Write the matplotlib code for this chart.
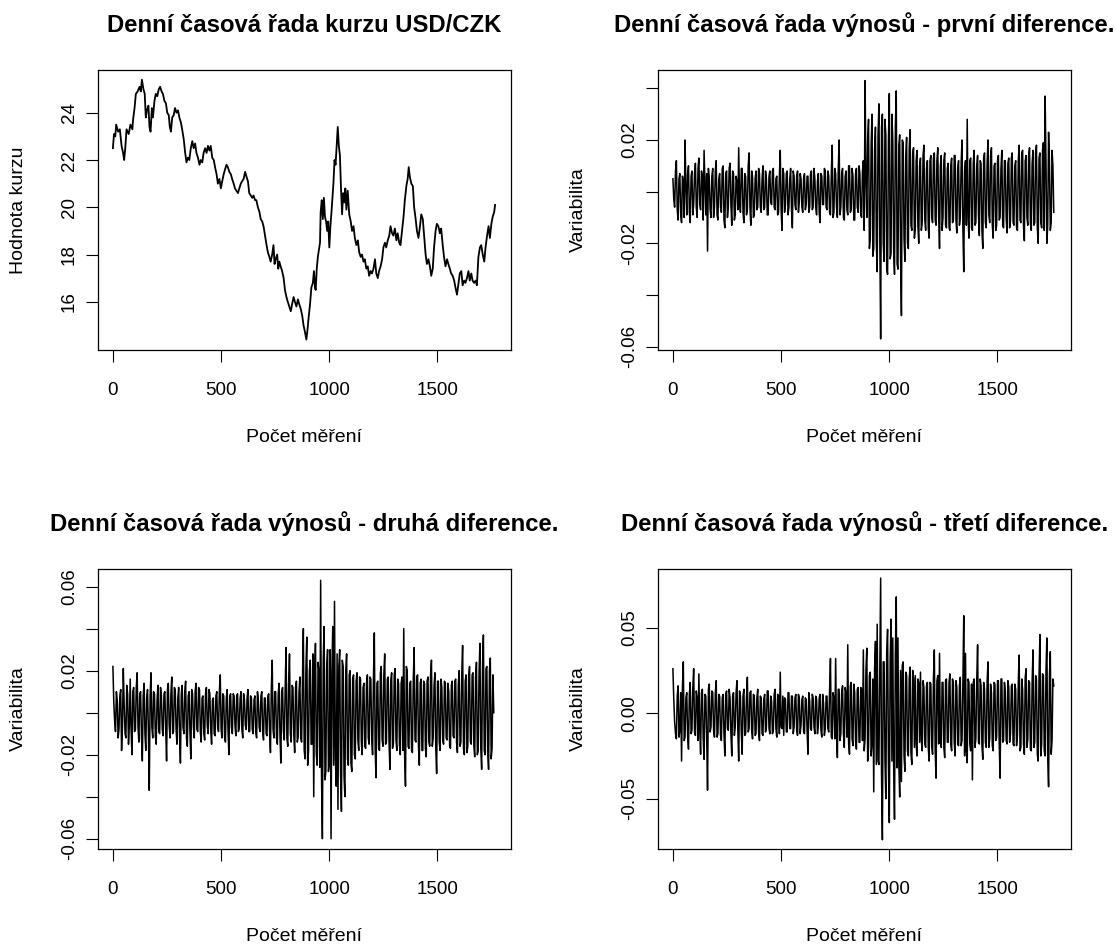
#!/usr/bin/env python3

import matplotlib
import numpy as np

matplotlib.use("Agg")
import matplotlib.pyplot as plt

########################################################################
# Data
########################################################################

# kurz USD/CZK: measurement index and value
PRICE_IDX = [
    1, 6, 12, 16, 25, 33, 41, 48, 53, 58, 64, 74, 82, 91, 94, 101, 107, 115,
    124, 130, 135, 142, 148, 153, 158, 165, 170, 175, 181, 186, 193, 199, 206,
    213, 219, 226, 232, 239, 246, 252, 259, 264, 269, 275, 282, 288, 295, 302,
    308, 315, 321, 328, 335, 341, 348, 354, 361, 368, 374, 381, 387, 394, 401,
    407, 414, 420, 427, 434, 440, 447, 453, 460, 467, 473, 480, 486, 493, 500,
    506, 513, 519, 526, 532, 539, 546, 552, 559, 565, 572, 579, 585, 592, 598,
    605, 612, 618, 625, 631, 638, 645, 651, 658, 664, 671, 678, 684, 691, 697,
    704, 711, 717, 724, 730, 737, 743, 748, 753, 760, 765, 770, 776, 783, 790,
    796, 803, 809, 816, 823, 829, 836, 842, 849, 856, 862, 869, 876, 882, 889,
    895, 900, 905, 912, 918, 925, 930, 935, 938, 943, 948, 953, 958, 961, 966,
    971, 976, 981, 986, 991, 996, 1001, 1006, 1011, 1016, 1020, 1025, 1030,
    1035, 1040, 1045, 1050, 1055, 1060, 1065, 1070, 1075, 1080, 1086, 1093,
    1100, 1106, 1113, 1119, 1126, 1133, 1139, 1146, 1152, 1159, 1165, 1172,
    1179, 1185, 1192, 1198, 1205, 1212, 1218, 1225, 1231, 1238, 1245, 1251,
    1258, 1264, 1271, 1278, 1284, 1291, 1297, 1304, 1311, 1317, 1324, 1330,
    1337, 1344, 1350, 1357, 1363, 1368, 1373, 1380, 1387, 1393, 1400, 1406,
    1413, 1420, 1426, 1433, 1439, 1446, 1452, 1459, 1466, 1472, 1479, 1485,
    1492, 1498, 1505, 1512, 1518, 1525, 1531, 1538, 1545, 1551, 1558, 1564,
    1571, 1578, 1584, 1591, 1597, 1604, 1611, 1617, 1624, 1630, 1637, 1644,
    1650, 1657, 1663, 1670, 1677, 1683, 1690, 1697, 1703, 1710, 1717, 1723,
    1730, 1737, 1743, 1750, 1756, 1763, 1767,
]
PRICE_VAL = [
    22.5, 23.1, 23.0, 23.5, 23.2, 23.3, 22.6, 22.3, 22.0, 22.5, 23.3, 23.1,
    23.5, 23.3, 23.7, 24.2, 24.8, 24.9, 25.1, 24.9, 25.4, 25.0, 24.8, 23.8,
    24.1, 24.3, 23.4, 23.2, 24.2, 23.8, 24.5, 24.8, 24.7, 25.0, 25.1, 24.9,
    24.8, 24.5, 24.4, 24.0, 23.9, 23.4, 23.2, 23.8, 23.9, 24.2, 24.0, 24.1,
    23.8, 23.6, 23.3, 22.9, 22.3, 21.9, 22.1, 22.0, 22.5, 22.8, 22.5, 22.7,
    22.3, 22.1, 21.8, 22.0, 21.9, 22.3, 22.5, 22.3, 22.6, 22.4, 22.6, 22.1,
    22.0, 21.7, 21.4, 21.0, 21.2, 20.8, 21.1, 21.4, 21.6, 21.8, 21.7, 21.5,
    21.4, 21.2, 21.0, 20.8, 20.7, 20.6, 20.8, 21.0, 21.1, 21.2, 21.5, 21.3,
    21.1, 20.6, 20.5, 20.4, 20.5, 20.3, 20.3, 20.0, 19.8, 19.5, 19.4, 19.2,
    18.8, 18.4, 18.1, 17.9, 17.7, 18.0, 18.4, 17.6, 17.8, 18.0, 17.4, 17.7,
    17.5, 17.3, 17.0, 16.5, 16.2, 16.0, 15.8, 15.6, 15.9, 16.2, 16.0, 15.8,
    16.1, 15.9, 15.7, 15.4, 15.0, 14.7, 14.4, 14.8, 15.3, 15.9, 16.6, 16.8,
    17.3, 16.6, 16.5, 17.4, 17.9, 18.2, 18.5, 19.8, 20.3, 19.5, 20.4, 19.6,
    19.4, 19.0, 19.4, 18.3, 19.2, 19.8, 20.5, 21.0, 22.0, 21.8, 22.6, 23.4,
    22.6, 22.2, 20.8, 19.7, 20.6, 20.2, 20.8, 19.9, 20.7, 19.7, 19.4, 19.0,
    19.2, 18.7, 18.4, 18.6, 18.1, 17.9, 18.0, 17.7, 17.8, 17.4, 17.5, 17.1,
    17.3, 17.2, 17.4, 17.8, 17.2, 17.0, 17.3, 17.5, 17.8, 18.3, 18.5, 18.3,
    18.6, 18.8, 19.2, 18.9, 18.8, 19.1, 18.6, 18.9, 18.5, 18.4, 19.0, 19.6,
    20.3, 20.9, 21.2, 21.7, 21.3, 21.0, 20.9, 20.0, 19.5, 19.0, 18.7, 19.2,
    19.7, 19.5, 18.8, 18.0, 17.6, 17.8, 17.5, 17.1, 17.4, 18.3, 19.0, 19.3,
    19.2, 18.9, 19.1, 18.4, 17.9, 17.5, 17.8, 17.6, 17.4, 17.2, 17.1, 16.9,
    16.6, 16.3, 16.7, 17.2, 17.3, 16.7, 16.9, 16.8, 17.0, 17.3, 16.9, 17.2,
    16.9, 16.8, 16.9, 16.7, 17.9, 18.3, 18.4, 18.0, 17.7, 18.3, 18.8, 19.2,
    18.7, 19.3, 19.6, 19.8, 20.1,
]

# returns in thousandths; *_MILLI at measurements 1, 9, 17, ...,
# *_MID at the measurements half way between them (5, 13, 21, ...)
DIFF1_MILLI = [
    5, -6, 12, -11, 7, -12, 4, 20, -9, 10,
    -12, 8, -5, 11, -10, 13, -7, 6, 16, -9,
    -23, 5, -10, 9, -6, 12, -11, 7, -8, 10,
    -14, 8, -6, 11, -13, 7, -9, 4, 17, -8,
    9, -12, 6, -7, 15, -13, 6, -9, 8, -6,
    7, -8, 10, -6, 5, -9, 8, -5, 9, -7,
    6, -8, 16, -15, 7, -5, 8, -6, 9, -14,
    6, -7, 8, -4, 5, -8, 7, -5, 6, -6,
    8, -6, 5, -9, 7, -12, 6, -5, 8, -7,
    6, -9, 18, -8, 7, -10, 20, -6, 9, -11,
    8, -9, 10, -7, 6, -11, 9, -8, 7, -10,
    12, 43, -10, 28, -18, 30, -22, 25, -31, 34,
    -57, 30, -27, 22, -32, 38, -24, 20, -32, 39,
    -30, 22, -48, 19, -27, 21, -22, 24, -15, 17,
    -14, 16, -20, 13, -12, 18, -15, 12, -18, 14,
    -12, 15, -13, 17, -22, 14, -10, 15, -14, 11,
    -15, 13, -11, 14, -16, 12, -10, 20, -31, 12,
    28, -18, 13, -15, 16, -12, 14, -17, 11, -22,
    15, -14, 20, -12, 17, -18, 11, -13, 14, -10,
    16, -14, 12, -16, 13, -11, 15, -13, 12, -15,
    18, -12, 16, -19, 14, -13, 17, -15, 16, -12,
    18, -20, 15, -14, 19, 37, -20, 23, -15, 16,
    -8,
]
DIFF1_MID = [
    -3, 8, -7, 5, -9, 6, -10, 2, 7, -8,
    6, -9, 7, -6, 9, -5, 8, -11, 4, 7,
    9, -7, 6, -10, 8, -9, 5, -6, 9, -11,
    7, -10, 9, -5, 8, -11, 6, -7, -3, 9,
    -8, 7, -9, 10, -6, 8, -10, 5, -7, 9,
    -6, 5, -7, 8, -9, 6, -4, 8, -6, 5,
    -9, 6, -7, 9, -8, 7, -9, 5, -7, 8,
    -5, 6, -8, 7, -6, 5, -7, 6, -8, 7,
    -7, 9, -6, 4, -8, 7, -5, 9, -6, 8,
    -8, 7, -10, 9, -6, 8, -9, 7, -10, 6,
    -7, 10, -8, 9, -11, 7, -6, 10, -9, 8,
    -15, 5, 20, -22, 18, -25, 16, -20, 22, -18,
    25, -20, 28, -30, 20, -26, 30, -22, 25, -28,
    18, -25, 20, -18, 14, -20, 17, -13, 15, -18,
    12, -13, 10, -15, 14, -11, 9, -14, 12, -10,
    13, -11, 12, -9, 10, -15, 12, -13, 9, -14,
    10, -12, 14, -11, 9, -13, 11, -14, 8, -13,
    -10, 12, -14, 11, -13, 10, -9, 12, -15, 13,
    -12, 11, -9, 14, -13, 10, -15, 12, -11, 9,
    -13, 12, -10, 11, -14, 13, -12, 10, -14, 12,
    -11, 15, -13, 12, -10, 14, -12, 11, -13, 15,
    -14, 13, -12, 16, -15, 12, -13, 11, -12, 10,
]
DIFF2_MILLI = [
    22, -4, 10, -12, 8, -18, 21, -10, 13, -15,
    16, -20, 12, -8, 19, -14, 10, -23, 14, -18,
    11, -37, 19, -12, 9, -15, 13, -10, 8, -11,
    10, -23, 14, -12, 17, -9, 11, -15, 12, -24,
    13, -10, 15, -16, 10, -22, 9, -12, 14, -9,
    11, -14, 8, -13, 12, -10, 9, -15, 7, -11,
    10, -9, 18, -12, 8, -14, 11, -20, 9, -10,
    8, -11, 9, -7, 10, -12, 6, -8, 11, -9,
    7, -10, 8, -12, 6, -9, 10, -13, 7, -11,
    9, -19, 25, -12, 10, -15, 14, -24, 12, -13,
    31, -16, 28, -14, 12, -19, 15, -12, 17, -14,
    40, -22, 36, -18, 25, -15, -40, 33, -25, 20,
    63, -60, 41, -28, 30, -24, -60, 41, 53, -35,
    -46, 30, -47, 22, -40, 28, -25, 20, -28, 18,
    -22, 19, -18, 16, -20, 14, -17, 18, -15, 16,
    -20, 38, -31, 15, -18, 22, -16, 28, -14, 17,
    -27, 19, -15, 21, -18, 14, -20, 17, 40, -35,
    20, -17, 15, -19, 31, -14, 18, -25, 16, -18,
    14, -21, 17, -16, 25, -12, 19, -29, 15, -18,
    12, -15, 14, -13, 10, -17, 15, -12, 16, -19,
    20, -14, 32, -20, 18, -16, 22, -15, 19, -21,
    24, -18, 33, -27, 37, -20, 22, -27, 26, -17,
    0,
]
DIFF2_MID = [
    5, -9, 6, -8, 11, -7, 4, -12, 9, -6,
    -8, 10, -9, 12, -7, 9, -11, 8, -10, 7,
    -9, 8, -7, 10, -11, 6, -9, 12, -8, 9,
    -8, 11, -6, 9, -10, 12, -8, 7, -11, 9,
    -7, 10, -12, 8, -9, 11, -7, 10, -8, 12,
    -9, 7, -10, 9, -6, 11, -8, 6, -10, 8,
    -7, 10, -8, 9, -11, 7, -9, 8, -7, 9,
    -6, 8, -9, 7, -8, 9, -6, 7, -9, 8,
    -8, 6, -9, 10, -7, 8, -9, 7, -10, 8,
    -9, 11, -8, 10, -12, 9, -11, 10, -9, 11,
    -12, 14, -10, 13, -11, 12, -14, 10, -12, 15,
    -18, 22, -25, 20, -15, 28, 18, -20, 24, -26,
    -30, 25, -32, 22, -28, 30, 20, -25, -22, 28,
    22, -28, 25, -30, 20, -22, 18, -24, 16, -20,
    15, -13, 17, -14, 12, -16, 14, -12, 17, -13,
    16, -18, 14, -17, 19, -13, 18, -15, 16, -14,
    15, -17, 18, -13, 16, -15, 14, -18, -20, 22,
    -16, 14, -18, 15, -13, 17, -16, 14, -18, 15,
    -17, 15, -14, 18, -16, 13, -17, 15, -14, 16,
    -13, 15, -12, 14, -16, 13, -11, 15, -14, 13,
    -16, 18, -17, 15, -19, 17, -14, 18, -16, 17,
    -20, 19, -17, 22, -18, 21, -19, 20, -22, 18,
]
DIFF3_MILLI = [
    26, -5, -15, 16, -10, -28, 30, -14, 12, -21,
    18, -10, 26, -13, 9, 23, -24, 14, -27, 10,
    -45, 17, -8, 12, -14, 19, -12, 10, -16, 11,
    -25, 13, -10, 9, -25, 12, -8, 19, -28, 10,
    -24, 14, -12, 21, -9, 13, -15, 10, -12, 14,
    -16, 9, -13, 11, -8, 13, -12, 7, -10, 14,
    -14, 10, 24, -9, -13, 8, -11, 12, -9, 10,
    -8, 11, -13, 9, -7, 10, -12, 8, -24, 7,
    -10, 9, -12, 8, -7, 11, -14, 6, -9, 10,
    -11, 32, -15, 9, 32, -26, 14, -12, 16, -20,
    12, 40, -24, 18, -19, 12, -21, 15, -17, 14,
    37, -15, 38, -20, 24, -18, -46, 42, 52, -30,
    79, -74, 30, -50, 49, -64, 55, 44, -62, 68,
    44, -49, -40, 30, -34, 22, -25, 27, -30, 20,
    22, -25, 18, 24, -22, 15, -20, 18, -28, 17,
    -24, 37, -38, 22, 35, -20, 18, -26, 20, -17,
    23, -22, 17, -25, 15, -19, 21, -16, 57, 35,
    -29, 18, -22, -39, 20, -15, 40, -18, 16, -27,
    14, -20, 30, -15, 12, -22, 17, -14, 19, -38,
    20, -16, 13, -18, 15, -12, 17, -19, 14, -13,
    34, -20, 14, -24, 26, -15, 18, -22, 37, -17,
    20, -28, 46, -18, 22, -25, 44, -43, 36, -16,
    16,
]
DIFF3_MID = [
    8, -12, 10, -14, 12, 15, -16, 9, -13, 11,
    -12, 15, -11, 13, -16, -10, 12, -15, 11, -13,
    14, -11, 13, -10, 12, -14, 11, -13, 9, -12,
    11, -9, 14, -12, 10, -13, 12, -10, 13, -11,
    10, -13, 9, -11, 12, -10, 11, -13, 9, -11,
    10, -12, 8, -11, 13, -9, 10, -12, 11, -9,
    11, -12, -8, 10, 9, -11, 12, -9, 10, -12,
    9, -10, 11, -12, 8, -11, 9, -10, 12, -9,
    11, -8, 10, -12, 9, -10, 11, -13, 10, -9,
    13, -14, 12, -15, -13, 14, -16, 13, -12, 15,
    -14, -18, 16, -15, 17, -16, 14, -17, 15, -16,
    -22, 25, -28, 22, -25, 20, 26, -30, -28, 25,
    -35, 30, -28, 35, -30, 32, -28, -30, 35, -32,
    -30, 25, 28, -25, 24, -22, 20, -23, 25, -20,
    -18, 20, -17, -16, 19, -18, 16, -20, 18, -19,
    20, -22, 19, -18, -17, 18, -20, 19, -17, 18,
    -18, 20, -17, 19, -18, 16, -19, 18, -25, -20,
    20, -18, 17, 18, -20, 19, -17, 20, -19, 18,
    -17, 18, -20, 17, -19, 18, -16, 19, -18, 20,
    -17, 18, -16, 19, -17, 16, -18, 17, -19, 18,
    -22, 20, -18, 21, -20, 19, -21, 18, -20, 22,
    -24, 22, -25, 23, -22, 24, -26, 22, -24, 20,
]
DIFF_STEP = 4

TITLES = [
    "Denní časová řada kurzu USD/CZK",
    "Denní časová řada výnosů - první diference.",
    "Denní časová řada výnosů - druhá diference.",
    "Denní časová řada výnosů - třetí diference.",
]
X_LABEL = "Počet měření"
Y_LABELS = ["Hodnota kurzu", "Variabilita", "Variabilita", "Variabilita"]

X_TICKS = [0, 500, 1000, 1500]
Y_TICKS = [
    [16, 18, 20, 22, 24],
    [-0.06, -0.04, -0.02, 0.00, 0.02, 0.04],
    [-0.06, -0.04, -0.02, 0.00, 0.02, 0.04, 0.06],
    [-0.05, 0.00, 0.05],
]
Y_TICK_LABELS = [
    ["16", "18", "20", "22", "24"],
    ["-0.06", "", "-0.02", "", "0.02", ""],
    ["-0.06", "", "-0.02", "", "0.02", "", "0.06"],
    ["-0.05", "0.00", "0.05"],
]
Y_LIMITS = [
    (13.96, 25.81),
    (-0.0613, 0.0471),
    (-0.0649, 0.0684),
    (-0.0794, 0.0843),
]
X_LIMITS = (-69.3, 1840.6)

########################################################################
# Layout (pixels of the 1116x946 picture)
########################################################################

FIG_W, FIG_H = 1116, 946
BOX_LEFT = [97.7, 657.7]
BOX_TOP = [70.0, 569.0]
BOX_W, BOX_H = 413.3, 280.0

plt.rcParams["font.family"] = ["Liberation Sans", "DejaVu Sans"]
plt.rcParams["axes.unicode_minus"] = False


def _series(main, mid) -> tuple[np.ndarray, np.ndarray]:
    # put the half-way readings between the main ones
    y = np.empty(len(main) + len(mid))
    y[0::2] = main
    y[1::2] = mid
    y = y / 1000.0
    x = 1 + DIFF_STEP * np.arange(len(y))
    return x, y


def _style(ax, k: int) -> None:
    ax.set_xlim(*X_LIMITS)
    ax.set_ylim(*Y_LIMITS[k])
    ax.set_xticks(X_TICKS, [str(t) for t in X_TICKS])
    ax.set_yticks(Y_TICKS[k], Y_TICK_LABELS[k])
    for side in ax.spines.values():
        side.set_linewidth(0.9)
        side.set_color("black")
    ax.tick_params(axis="both", direction="out", length=8.8, width=0.8,
                   labelsize=13.5, colors="black")
    ax.tick_params(axis="x", pad=14.5)
    ax.tick_params(axis="y", pad=5.5, labelrotation=90)
    for lab in ax.get_yticklabels():
        lab.set_verticalalignment("center")
        lab.set_horizontalalignment("right")
    ax.set_title(TITLES[k], fontsize=17.2, fontweight="bold",
                 y=1.0 + 45.0 / BOX_H, va="center", pad=0)
    ax.set_xlabel(X_LABEL, fontsize=14, va="center")
    ax.xaxis.set_label_coords(0.5, -87.0 / BOX_H)
    ax.set_ylabel(Y_LABELS[k], fontsize=14, va="center")
    ax.yaxis.set_label_coords(-79.0 / BOX_W, 0.5)


def main() -> int:
    fig = plt.figure(figsize=(FIG_W / 100, FIG_H / 100), dpi=100)
    axes = []
    for row in range(2):
        for col in range(2):
            rect = [
                BOX_LEFT[col] / FIG_W,
                1.0 - (BOX_TOP[row] + BOX_H) / FIG_H,
                BOX_W / FIG_W,
                BOX_H / FIG_H,
            ]
            axes.append(fig.add_axes(rect))

    axes[0].plot(PRICE_IDX, PRICE_VAL, color="black", linewidth=1.3)
    pairs = [
        (DIFF1_MILLI, DIFF1_MID),
        (DIFF2_MILLI, DIFF2_MID),
        (DIFF3_MILLI, DIFF3_MID),
    ]
    for k, (main_vals, mid_vals) in enumerate(pairs, 1):
        x, y = _series(main_vals, mid_vals)
        axes[k].plot(x, y, color="black", linewidth=1.1)

    for k, ax in enumerate(axes):
        _style(ax, k)

    fig.savefig("out.png", dpi=100, facecolor="white")
    plt.close(fig)
    return 0


if __name__ == "__main__":
    raise SystemExit(main())
